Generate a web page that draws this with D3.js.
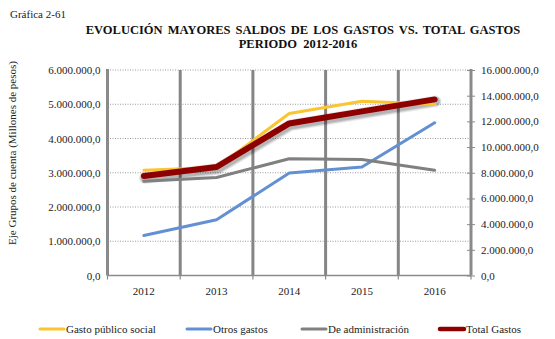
<!DOCTYPE html>
<html>
<head>
<meta charset="utf-8">
<script src="https://cdn.jsdelivr.net/npm/d3@7"></script>
</head>
<body style="margin:0">
<svg id="chart" width="555" height="339"></svg>
<script>
// Años del periodo
const years = ["2012", "2013", "2014", "2015", "2016"];

// Saldos por grupo de cuenta (eje izquierdo, millones de pesos)
const gastoPublicoSocial = [3070000, 3150000, 4730000, 5090000, 5000000];
const otrosGastos        = [1170000, 1630000, 2990000, 3170000, 4460000];
const deAdministracion   = [2750000, 2860000, 3410000, 3390000, 3070000];

// Total gastos (eje derecho, millones de pesos)
const totalGastos = [7750000, 8450000, 11840000, 12780000, 13710000];

// Marcas de los ejes
const leftTicks  = [0, 1000000, 2000000, 3000000, 4000000, 5000000, 6000000];
const rightTicks = [0, 2000000, 4000000, 6000000, 8000000, 10000000, 12000000, 14000000, 16000000];

const seriesNames  = ["Gasto público social", "Otros gastos", "De administración", "Total Gastos"];

const FONT = "Liberation Serif";
const svg = d3.select("#chart");
const plot = { left: 107.5, right: 471, top: 70, bottom: 275.5 };

// Formato con punto de miles y coma decimal
const fmt = d3.formatLocale({ decimal: ",", thousands: ".", grouping: [3], currency: ["$", ""] }).format(",.1f");

const x = d3.scaleBand().domain(years).range([plot.left, plot.right]).padding(0);
const yL = d3.scaleLinear().domain([0, 6000000]).range([plot.bottom, plot.top]);
const yR = d3.scaleLinear().domain([0, 16000000]).range([plot.bottom, plot.top]);

// Títulos
svg.append("text").attr("x", 10).attr("y", 18)
  .attr("font-family", FONT).attr("font-size", 11).attr("fill", "#222").text("Gráfica  2-61");
svg.append("text").attr("x", 303).attr("y", 34).attr("text-anchor", "middle")
  .attr("font-family", FONT).attr("font-size", 12.5).attr("font-weight", "bold").attr("fill", "#111")
  .attr("word-spacing", "2px")
  .text("EVOLUCIÓN  MAYORES  SALDOS DE LOS GASTOS VS. TOTAL  GASTOS");
svg.append("text").attr("x", 298).attr("y", 48).attr("text-anchor", "middle")
  .attr("font-family", FONT).attr("font-size", 12.5).attr("font-weight", "bold").attr("fill", "#111")
  .attr("word-spacing", "3px")
  .text("PERIODO  2012-2016");

// Líneas de cuadrícula horizontales punteadas
svg.append("g").selectAll("line").data(leftTicks.filter(d => d > 0)).join("line")
  .attr("x1", plot.left).attr("x2", plot.right)
  .attr("y1", d => yL(d)).attr("y2", d => yL(d))
  .attr("stroke", "#9a9a9a").attr("stroke-width", 1).attr("stroke-dasharray", "1,1.5");

// Divisiones verticales entre años
const bounds = years.slice(1).map(y => x(y));
svg.append("g").selectAll("line").data(bounds).join("line")
  .attr("x1", d => d).attr("x2", d => d)
  .attr("y1", plot.top).attr("y2", plot.bottom)
  .attr("stroke", "#858585").attr("stroke-width", 3);

// Eje izquierdo
const axL = svg.append("g").attr("transform", `translate(${plot.left},0)`)
  .call(d3.axisLeft(yL).tickValues(leftTicks).tickFormat(fmt).tickSize(0).tickPadding(7));
axL.select(".domain").attr("stroke", "#8a8a8a").attr("stroke-width", 3).attr("d", `M0,${plot.top - 1}V${plot.bottom}`);

// Eje derecho
const axR = svg.append("g").attr("transform", `translate(${plot.right},0)`)
  .call(d3.axisRight(yR).tickValues(rightTicks).tickFormat(fmt).tickSize(4).tickPadding(6));
axR.select(".domain").attr("stroke", "#8a8a8a").attr("stroke-width", 3).attr("d", `M0,${plot.top - 1}V${plot.bottom}`);
axR.selectAll(".tick line").attr("stroke", "#8a8a8a").attr("x1", -4).attr("x2", 4);

// Eje inferior
const axB = svg.append("g").attr("transform", `translate(0,${plot.bottom})`)
  .call(d3.axisBottom(x).tickSize(0).tickPadding(12));
axB.select(".domain").attr("stroke", "#8a8a8a").attr("stroke-width", 1.5).attr("d", `M${plot.left},0H${plot.right}`);
svg.append("g").selectAll("line").data([plot.left, ...bounds, plot.right]).join("line")
  .attr("x1", d => d).attr("x2", d => d)
  .attr("y1", plot.bottom).attr("y2", plot.bottom + 4)
  .attr("stroke", "#8a8a8a").attr("stroke-width", 1.2);

[axL, axR, axB].forEach(ax => {
  ax.attr("font-family", FONT).attr("font-size", 11);
  ax.selectAll("text").attr("font-family", FONT).attr("fill", "#222");
});

// Título del eje izquierdo
svg.append("text")
  .attr("transform", "translate(16,153) rotate(-90)")
  .attr("text-anchor", "middle").attr("font-family", FONT).attr("font-size", 11).attr("fill", "#222")
  .text("Eje Grupos de cuenta (Millones de pesos)");

// Series
const cx = d => x(d) + x.bandwidth() / 2;
const lineL = d3.line().x((d, i) => cx(years[i])).y(d => yL(d));
const lineR = d3.line().x((d, i) => cx(years[i])).y(d => yR(d));

const series = [
  { values: gastoPublicoSocial, gen: lineL, color: "#FBC531", width: 3 },
  { values: otrosGastos,        gen: lineL, color: "#6290D2", width: 3 },
  { values: deAdministracion,   gen: lineL, color: "#808080", width: 3 },
  { values: totalGastos,        gen: lineR, color: "#8E0000", width: 6, shadow: true }
];

// Sombra difusa bajo la línea del total (capas translúcidas desplazadas)
const shadowLayers = [
  { w: 12, o: 0.08 }, { w: 10, o: 0.10 }, { w: 8, o: 0.14 }
];
const totalSerie = series[3];
svg.append("g").attr("transform", "translate(1,2)")
  .selectAll("path").data(shadowLayers).join("path")
  .attr("d", totalSerie.gen(totalSerie.values))
  .attr("fill", "none")
  .attr("stroke", "#000")
  .attr("stroke-opacity", d => d.o)
  .attr("stroke-width", d => d.w)
  .attr("stroke-linecap", "round")
  .attr("stroke-linejoin", "round");

svg.append("g").selectAll("path").data(series).join("path")
  .attr("d", s => s.gen(s.values))
  .attr("fill", "none")
  .attr("stroke", s => s.color)
  .attr("stroke-width", s => s.width)
  .attr("stroke-linecap", "round")
  .attr("stroke-linejoin", "round");

// Leyenda
const legendX = [40, 187, 302, 440];
const leg = svg.append("g").selectAll("g").data(series).join("g")
  .attr("transform", (s, i) => `translate(${legendX[i]},329)`);
leg.append("line").attr("x1", 0).attr("x2", 24).attr("y1", 0).attr("y2", 0)
  .attr("stroke", s => s.color).attr("stroke-width", s => s.width === 6 ? 4.5 : 3)
  .attr("stroke-linecap", "round");
leg.append("text").attr("x", 26).attr("y", 4)
  .attr("font-family", FONT).attr("font-size", 11).attr("fill", "#222")
  .text((s, i) => seriesNames[i]);
</script>
</body>
</html>
